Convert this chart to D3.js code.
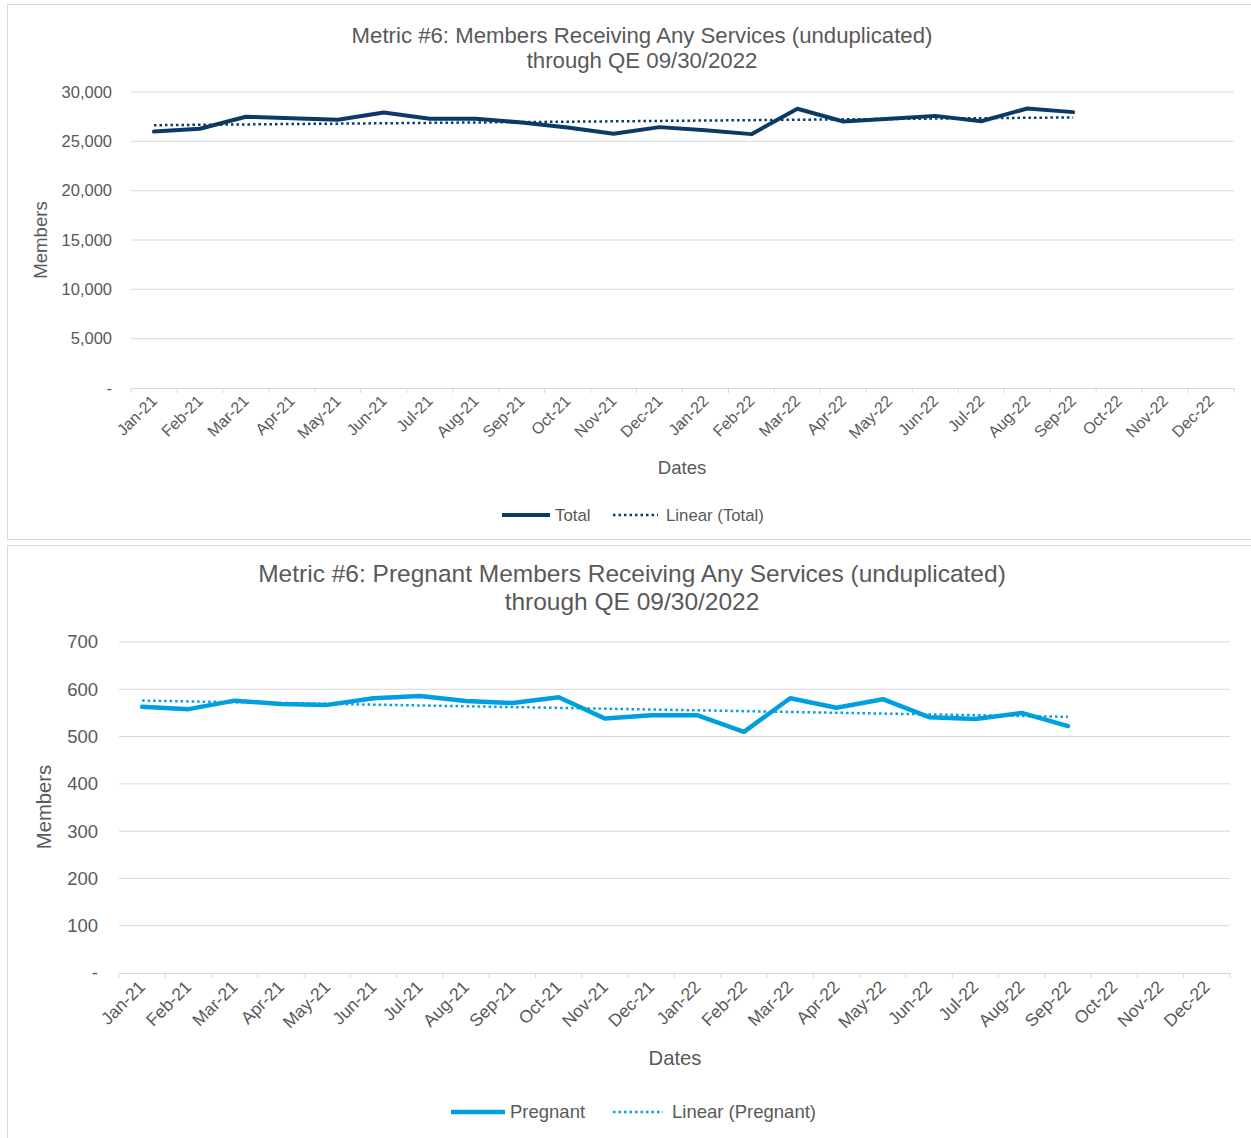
<!DOCTYPE html>
<html>
<head>
<meta charset="utf-8">
<script src="https://cdn.jsdelivr.net/npm/d3@7"></script>
<style>
  body { margin: 0; background: #fff; }
  svg { display: block; font-family: "Liberation Sans", Arial, sans-serif; }
</style>
</head>
<body>
<svg id="chart" width="1251" height="1138"></svg>
<script>
const months = ["Jan-21","Feb-21","Mar-21","Apr-21","May-21","Jun-21","Jul-21","Aug-21","Sep-21",
  "Oct-21","Nov-21","Dec-21","Jan-22","Feb-22","Mar-22","Apr-22","May-22","Jun-22","Jul-22",
  "Aug-22","Sep-22","Oct-22","Nov-22","Dec-22"];

const totalValues = [25990, 26270, 27490, 27330, 27180, 27920, 27280, 27290, 26910,
  26400, 25760, 26440, 26130, 25730, 28300, 27010, 27280, 27580, 27040, 28330, 27960];

const pregnantValues = [563, 558, 576, 569, 567, 581, 586, 575, 571,
  583, 538, 545, 545, 510, 581, 561, 579, 541, 537, 550, 522];

const totalTicks = [0, 5000, 10000, 15000, 20000, 25000, 30000];
const pregnantTicks = [0, 100, 200, 300, 400, 500, 600, 700];

const svg = d3.select("#chart");

// panel borders
svg.append("rect").attr("x", 7.5).attr("y", 4.5).attr("width", 1260).attr("height", 535)
  .attr("fill", "#fff").attr("stroke", "#d9d9d9");
svg.append("rect").attr("x", 7.5).attr("y", 545.5).attr("width", 1260).attr("height", 600)
  .attr("fill", "#fff").attr("stroke", "#d9d9d9");

function trend(values) {
  const mx = d3.mean(values, (d, i) => i), my = d3.mean(values);
  let sxy = 0, sxx = 0;
  values.forEach((v, i) => { sxy += (i - mx) * (v - my); sxx += (i - mx) * (i - mx); });
  const b = sxy / sxx, a = my - b * mx;
  return values.map((v, i) => a + b * i);
}

function drawChart(c) {
  const g = svg.append("g");

  const x = d3.scaleBand().domain(months).range([c.left, c.right]);
  const y = d3.scaleLinear().domain([0, c.max]).range([c.bottom, c.top]);

  // gridlines
  g.selectAll(".grid").data(c.ticks.slice(1)).enter().append("line")
    .attr("x1", c.left).attr("x2", c.right)
    .attr("y1", d => y(d)).attr("y2", d => y(d))
    .attr("stroke", "#d9d9d9").attr("stroke-width", 1);

  // y tick labels
  g.selectAll(".ylab").data(c.ticks).enter().append("text")
    .attr("x", c.yLabelX).attr("y", d => y(d)).attr("dy", "0.35em")
    .attr("text-anchor", "end").attr("fill", "#595959").style("font-size", c.yFont + "px")
    .text(d => d === 0 ? "-" : d3.format(",")(d));

  // x axis
  const xAxis = g.append("g").attr("transform", `translate(0,${c.bottom})`)
    .call(d3.axisBottom(x).tickSize(0).tickFormat(""));
  xAxis.select(".domain").attr("stroke", "#d9d9d9");
  const bounds = months.map(m => x(m)).concat([c.right]);
  g.selectAll(".xt").data(bounds).enter().append("line")
    .attr("x1", d => d).attr("x2", d => d)
    .attr("y1", c.bottom).attr("y2", c.bottom + 5)
    .attr("stroke", "#d9d9d9");

  g.selectAll(".xlab").data(months).enter().append("text")
    .attr("transform", d => `translate(${x(d) + x.bandwidth() / 2 + c.labDx},${c.bottom + c.labDy}) rotate(-45)`)
    .attr("text-anchor", "end").attr("fill", "#595959").style("font-size", c.tickFont + "px")
    .text(d => d);

  const cx = (d, i) => x(months[i]) + x.bandwidth() / 2;

  // trend
  const tv = trend(c.values);
  g.append("path").datum(tv)
    .attr("d", d3.line().x(cx).y(d => y(d)))
    .attr("fill", "none").attr("stroke", c.color).attr("stroke-width", 2.5)
    .attr("stroke-dasharray", "2.5 3");

  // series
  g.append("path").datum(c.values)
    .attr("d", d3.line().x(cx).y(d => y(d)))
    .attr("fill", "none").attr("stroke", c.color).attr("stroke-width", c.lineW)
    .attr("stroke-linejoin", "round").attr("stroke-linecap", "round");

  // titles
  c.title.forEach((t, i) => {
    g.append("text").attr("x", c.titleX).attr("y", c.titleY + i * c.titleGap)
      .attr("text-anchor", "middle").attr("fill", "#595959").style("font-size", c.titleFont + "px")
      .text(t);
  });

  // axis titles
  g.append("text").attr("transform", `translate(${c.yTitleX},${c.yTitleY}) rotate(-90)`)
    .attr("text-anchor", "middle").attr("fill", "#595959").style("font-size", c.axisFont + "px")
    .text("Members");
  g.append("text").attr("x", c.xTitleX).attr("y", c.xTitleY)
    .attr("text-anchor", "middle").attr("fill", "#595959").style("font-size", c.axisFont + "px")
    .text("Dates");

  // legend
  const lg = g.append("g");
  lg.append("line").attr("x1", c.leg[0]).attr("x2", c.leg[1]).attr("y1", c.legY).attr("y2", c.legY)
    .attr("stroke", c.color).attr("stroke-width", c.lineW);
  lg.append("text").attr("x", c.leg[2]).attr("y", c.legY).attr("dy", "0.35em")
    .attr("fill", "#595959").style("font-size", c.legFont + "px").text(c.name);
  lg.append("line").attr("x1", c.leg[3]).attr("x2", c.leg[4]).attr("y1", c.legY).attr("y2", c.legY)
    .attr("stroke", c.color).attr("stroke-width", 2.5).attr("stroke-dasharray", "2.5 3");
  lg.append("text").attr("x", c.leg[5]).attr("y", c.legY).attr("dy", "0.35em")
    .attr("fill", "#595959").style("font-size", c.legFont + "px").text(`Linear (${c.name})`);
}

drawChart({
  values: totalValues, ticks: totalTicks, max: 30000, name: "Total", color: "#0b3a66",
  left: 131, right: 1234, top: 92, bottom: 388, yLabelX: 112,
  yFont: 16.5, tickFont: 16, labDx: 4, labDy: 14, lineW: 4,
  title: ["Metric #6: Members Receiving Any Services (unduplicated)", "through QE 09/30/2022"],
  titleX: 642, titleY: 43, titleGap: 25, titleFont: 22.2,
  yTitleX: 47, yTitleY: 240, xTitleX: 682, xTitleY: 474, axisFont: 18.6,
  leg: [502, 550, 555, 613, 658, 666], legY: 515, legFont: 16.8
});

drawChart({
  values: pregnantValues, ticks: pregnantTicks, max: 700, name: "Pregnant", color: "#00a0e0",
  left: 119, right: 1230, top: 642, bottom: 973, yLabelX: 98,
  yFont: 18.5, tickFont: 17.5, labDx: 4, labDy: 15, lineW: 4.5,
  title: ["Metric #6: Pregnant Members Receiving Any Services (unduplicated)", "through QE 09/30/2022"],
  titleX: 632, titleY: 582, titleGap: 28, titleFont: 24.5,
  yTitleX: 51, yTitleY: 807, xTitleX: 675, xTitleY: 1065, axisFont: 20.3,
  leg: [451, 505, 510, 613, 663, 672], legY: 1112, legFont: 18.5
});
</script>
</body>
</html>
